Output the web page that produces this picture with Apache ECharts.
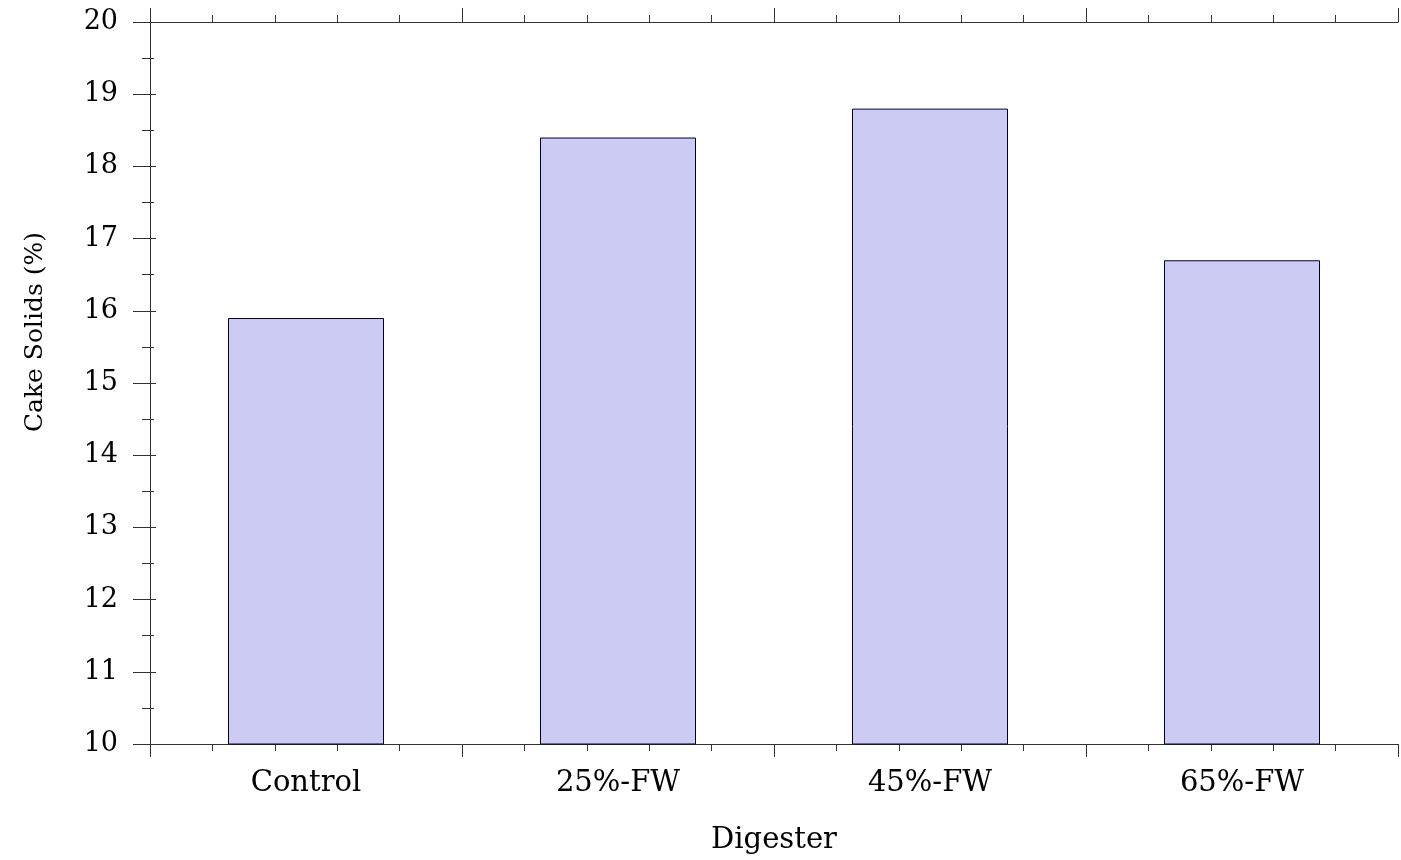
<!DOCTYPE html>
<html>
<head>
<meta charset="utf-8">
<script src="https://cdn.jsdelivr.net/npm/echarts@6/dist/echarts.min.js"></script>
<style>html,body{margin:0;padding:0;background:#fff}#c{width:1401px;height:860px}</style>
</head>
<body>
<div id="c"></div>
<script>
const categories = ['Control', '25%-FW', '45%-FW', '65%-FW'];
const cakeSolids = [15.9, 18.4, 18.8, 16.7];
const yMin = 10, yMax = 20, yStep = 1;
const yTitle = 'Cake Solids (%)';
const xTitle = 'Digester';

const axisColor = '#333';
const chart = echarts.init(document.getElementById('c'));
const tickAxisCommon = {
  type: 'value', min: 0, max: categories.length, interval: 1, gridIndex: 0,
  axisLine: { show: false }, axisLabel: { show: false }, splitLine: { show: false },
  minorSplitLine: { show: false }
};
chart.setOption({
  animation: false,
  backgroundColor: '#fff',
  grid: { left: 150, right: 3, top: 22, bottom: 114 },
  graphic: [{
    type: 'text', x: 35, y: 332, rotation: Math.PI / 2,
    style: { text: yTitle, fontFamily: 'DejaVu Serif', fontSize: 25,
             fill: '#000', align: 'center', verticalAlign: 'middle' }
  }],
  xAxis: [
    {
      type: 'category', data: categories, position: 'bottom',
      axisLine: { show: true, lineStyle: { color: axisColor, width: 1 } },
      axisTick: { show: false },
      axisLabel: { fontFamily: 'DejaVu Serif', fontSize: 29, color: '#000', margin: 25 },
      name: xTitle, nameLocation: 'middle', nameGap: 82,
      nameTextStyle: { fontFamily: 'DejaVu Serif', fontSize: 29, color: '#000' }
    },
    Object.assign({}, tickAxisCommon, {
      position: 'bottom',
      axisTick: { show: true, inside: false, length: 13, lineStyle: { color: axisColor } },
      minorTick: { show: true, splitNumber: 5, length: 7, lineStyle: { color: axisColor } }
    }),
    Object.assign({}, tickAxisCommon, {
      position: 'top',
      axisLine: { show: true, lineStyle: { color: axisColor } },
      axisTick: { show: true, inside: false, length: 14, lineStyle: { color: axisColor } },
      minorTick: { show: true, splitNumber: 5, length: 7, lineStyle: { color: axisColor } }
    })
  ],
  yAxis: [
    {
      type: 'value', min: yMin, max: yMax, interval: yStep, position: 'left',
      axisLine: { show: true, lineStyle: { color: axisColor } },
      axisTick: { show: true, length: 17, lineStyle: { color: axisColor } },
      minorTick: { show: true, splitNumber: 2, length: 8, lineStyle: { color: axisColor } },
      splitLine: { show: false },
      axisLabel: { fontFamily: 'DejaVu Serif', fontSize: 27, color: '#000', margin: 32 }
    },
    {
      type: 'value', min: yMin, max: yMax, interval: yStep, position: 'right',
      axisLine: { show: true, lineStyle: { color: axisColor } },
      axisTick: { show: true, length: 6, lineStyle: { color: axisColor } },
      minorTick: { show: true, splitNumber: 2, length: 4, lineStyle: { color: axisColor } },
      splitLine: { show: false },
      axisLabel: { show: false }
    }
  ],
  series: [{
    type: 'bar', data: cakeSolids, xAxisIndex: 0, yAxisIndex: 0, barWidth: '50%',
    itemStyle: { color: '#cbcbf4', borderColor: '#000033', borderWidth: 1 }
  }]
});
</script>
</body>
</html>
